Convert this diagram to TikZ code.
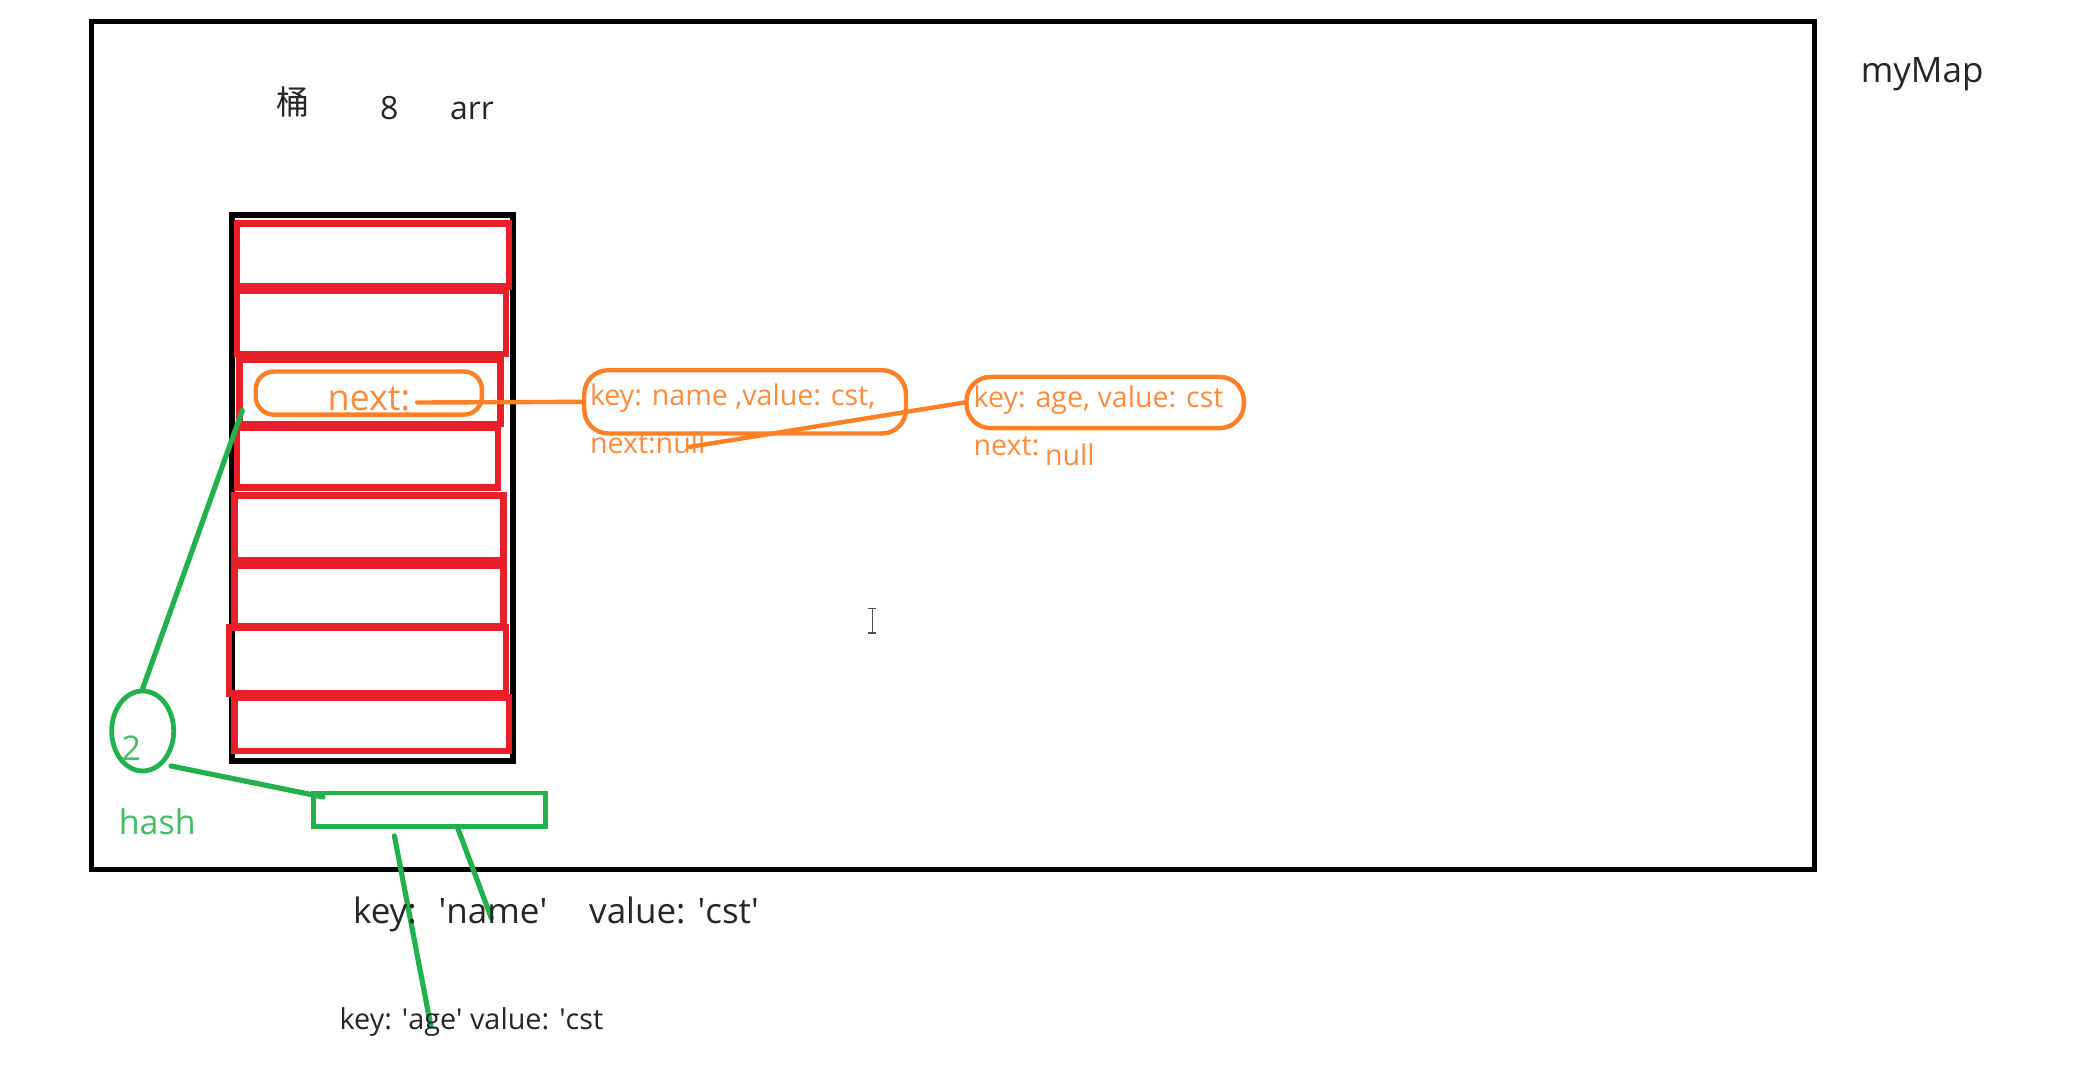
\documentclass[tikz,border=0pt]{standalone}
\usepackage{fontspec}
\setmainfont{Open Sans}
\newfontfamily\cjk{Noto Sans CJK SC}
\usetikzlibrary{fit,shapes.geometric}
\definecolor{pred}{HTML}{E8202A}
\definecolor{porange}{HTML}{FF7F27}
\definecolor{pgreen}{HTML}{22B14C}
\definecolor{ink}{HTML}{262626}
\tikzset{
  frame/.style={draw=black, line width=2.6pt, inner sep=0pt},
  cell/.style={draw=pred, line width=3.3pt, inner sep=0pt},
  obox/.style={draw=porange, line width=2.2pt, rounded corners=9pt, inner sep=0pt},
  gbox/.style={draw=pgreen, line width=2.4pt, inner sep=0pt},
  gline/.style={draw=pgreen, line width=2.6pt, line cap=round},
  oline/.style={draw=porange, line width=2.2pt, line cap=round},
  lbl/.style={anchor=base west, inner sep=0pt, text=ink},
  olbl/.style={lbl, text=porange!90!white},
  glbl/.style={lbl, text=pgreen!85!white},
}
\begin{document}
\begin{tikzpicture}[x=0.6731pt,y=-0.6731pt]
\useasboundingbox (0,0) rectangle (1560,802);
\fill[white] (0,0) rectangle (1560,802);

% outer map frame
\node[frame, fit={(68,16) (1348,646)}] (map) {};
\node[lbl, font=\fontsize{17.5}{20}\selectfont] (mymap) at (1382,61) {myMap};

% title
\node[lbl, font=\cjk\fontsize{16.5}{20}\selectfont] (tong) at (205,85) {桶};
\node[lbl, font=\fontsize{16}{20}\selectfont] (eight) at (282,89) {8};
\node[lbl, font=\fontsize{16}{20}\selectfont] (arr) at (334,89) {arr};

% array
\node[frame, line width=3pt, fit={(172,160) (381,565)}] (array) {};
\node[cell, fit={(176,166) (378,213)}] (c1) {};
\node[cell, fit={(176,216) (376,263)}] (c2) {};
\node[cell, fit={(178,267) (372,315)}] (c3) {};
\node[cell, fit={(176,318) (370,362)}] (c4) {};
\node[cell, fit={(174,368) (374,416)}] (c5) {};
\node[cell, fit={(174,420) (374,465)}] (c6) {};
\node[cell, fit={(170,466) (376,515)}] (c7) {};
\node[cell, fit={(174,518) (378,558)}] (c8) {};

% next box in bucket 2
\node[obox, fit={(190,276) (358,308)}] (nb) {};
\node[olbl, font=\fontsize{18}{20}\selectfont] (nexttxt) at (243,305) {next:};
\coordinate (nstart) at (310,299);

% linked entries
\node[obox, rounded corners=12pt, fit={(434,275) (673,322)}] (e1) {};
\node[olbl, font=\fontsize{14.3}{16}\selectfont] (e1t) at (438,301) {key: name ,value: cst,};
\node[olbl, font=\fontsize{14.3}{16}\selectfont] (e1n) at (438,337) {next:null};
\coordinate (e1null) at (512,332);

\node[obox, rounded corners=12pt, fit={(718,280) (924,318)}] (e2) {};
\node[olbl, font=\fontsize{14.3}{16}\selectfont] (e2t) at (723,303) {key: age, value: cst};
\node[olbl, font=\fontsize{14.3}{16}\selectfont] (e2n) at (723,338) {next:};
\node[olbl, font=\fontsize{14.3}{16}\selectfont] (e2null) at (776,346) {null};

\draw[oline] (nstart) -- (e1.west);
\draw[oline] (e2.west) -- (e1null);

% hash part
\node[ellipse, draw=pgreen, line width=2.4pt, minimum width=31pt, minimum height=40pt, inner sep=0pt] (hc) at (106,543) {};
\node[glbl, font=\fontsize{17}{20}\selectfont] (two) at (90,565) {2};
\node[glbl, font=\fontsize{17}{20}\selectfont] (hash) at (88,620) {hash};
\node[gbox, fit={(233,589) (405,614)}] (hbox) {};

\coordinate (cellpt) at (180,305);
\coordinate (hcout) at (127,569);
\coordinate (hboxin) at (240,592);
\coordinate (hb1) at (340,615);
\coordinate (hb2) at (293,621);
\coordinate (nameend) at (365,682);
\coordinate (ageend) at (320,762);

\draw[gline] (cellpt) -- (hc.north);
\draw[gline] (hcout) -- (hboxin);
\draw[gline] (hb1) -- (nameend);
\draw[gline] (hb2) -- (ageend);

% key/value texts
\node[lbl, font=\fontsize{17.5}{20}\selectfont] (kv1) at (262,686)
  {key:\hspace{11pt}\textquotesingle name\textquotesingle\hspace{21pt}value: \textquotesingle cst\textquotesingle};
\node[lbl, font=\fontsize{14.4}{16}\selectfont] (kv2) at (252,765)
  {key: \textquotesingle age\textquotesingle\ value: \textquotesingle cst};

% text cursor
\draw[ink!80, line width=0.8pt] (645,452) -- (651,452) (648,452) -- (648,470) (645,470) -- (651,470);
\end{tikzpicture}
\end{document}
